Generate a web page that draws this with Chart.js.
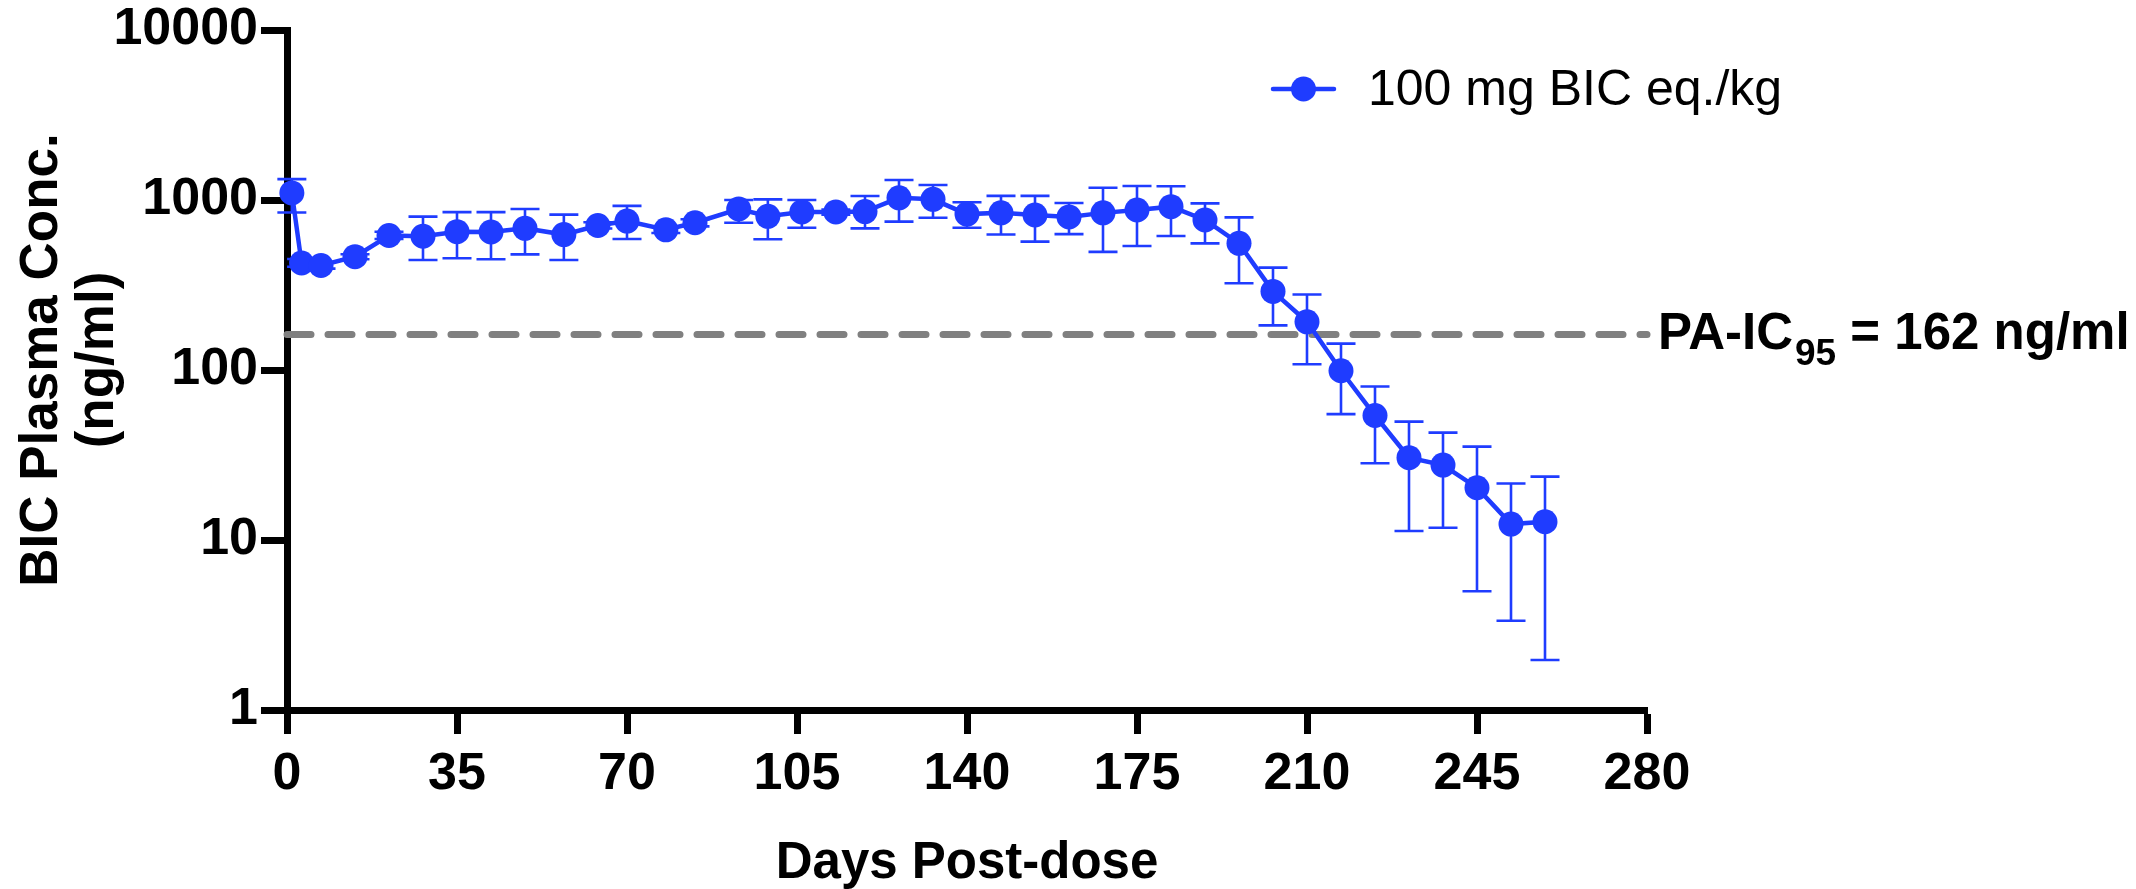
<!DOCTYPE html>
<html><head><meta charset="utf-8">
<script src="https://cdn.jsdelivr.net/npm/chart.js@4.4.1/dist/chart.umd.min.js"></script>
<style>html,body{margin:0;padding:0;background:#fff;} canvas{display:block;}</style>
</head><body>
<canvas id="c" width="2136" height="889"></canvas>
<script>
// ---- data ----
const days = [1,3,7,14,21,28,35,42,49,57,64,70,78,84,93,99,106,113,119,126,133,140,147,154,161,168,175,182,189,196,203,210,217,224,231,238,245,252,259];
const meanConc = [1100,426,412,464,618,612,651,648,681,626,708,752,668,735,885,802,851,851,855,1030,1009,826,840,816,795,840,873,914,763,556,290,192,99,54,30.5,27.6,20.3,12.4,12.8];
const upperConc = [1327,450,430,480,650,798,848,848,885,820,740,924,700,770,1000,1009,1000,880,1056,1312,1225,970,1058,1058,960,1181,1209,1205,955,790,400,278,143,80,49.7,42.8,35.4,21.5,23.6];
const lowerConc = [845,405,395,448,590,444,454,448,479,444,680,590,640,700,735,588,687,820,681,746,787,687,627,569,630,495,536,614,556,324,183,108,55,28.3,11.3,11.8,5.0,3.35,1.97];
const xTicks = [0,35,70,105,140,175,210,245,280];
const yTicks = [1,10,100,1000,10000];
const yTickLabels = ['1','10','100','1000','10000'];
const thresholdValue = 162;
const thresholdRange = [0,280];
const seriesLabel = '100 mg BIC eq./kg';
const xTitle = 'Days Post-dose';
const yTitleLines = ['BIC Plasma Conc.', '(ng/ml)'];
const thresholdText = ['PA-IC', '95', ' = 162 ng/ml'];

// ---- styles ----
const FONT = "'Liberation Sans', Arial, Helvetica, sans-serif";
const BLUE = '#1f3cff';
const GRAY = '#808080';

const errorBars = {
  id: 'errorBars',
  beforeDatasetsDraw(chart) {
    const {ctx, scales: {x, y}} = chart;
    ctx.save();
    ctx.strokeStyle = BLUE;
    ctx.lineWidth = 2.6;
    const cap = 14.5;
    days.forEach((d, i) => {
      const px = x.getPixelForValue(d);
      const yt = y.getPixelForValue(upperConc[i]);
      const yb = y.getPixelForValue(lowerConc[i]);
      ctx.beginPath();
      ctx.moveTo(px, yt); ctx.lineTo(px, yb);
      ctx.moveTo(px - cap, yt); ctx.lineTo(px + cap, yt);
      ctx.moveTo(px - cap, yb); ctx.lineTo(px + cap, yb);
      ctx.stroke();
    });
    ctx.restore();
  }
};

const annotations = {
  id: 'annotations',
  afterDraw(chart) {
    const {ctx, chartArea, scales: {x, y}} = chart;
    ctx.save();
    ctx.fillStyle = '#000';
    // y title (two lines, rotated)
    ctx.font = `bold 53px ${FONT}`;
    ctx.textAlign = 'center';
    ctx.textBaseline = 'alphabetic';
    const yc = 360;
    [[57, yTitleLines[0]], [113, yTitleLines[1]]].forEach(([bx, t]) => {
      ctx.save();
      ctx.translate(bx, yc);
      ctx.rotate(-Math.PI / 2);
      ctx.fillText(t, 0, 0);
      ctx.restore();
    });
    // x title
    ctx.font = `bold 51px ${FONT}`;
    ctx.fillText(xTitle, (chartArea.left + chartArea.right) / 2, 878);
    // threshold label
    const ty = y.getPixelForValue(thresholdValue);
    let tx = x.getPixelForValue(thresholdRange[1]) + 11;
    ctx.textAlign = 'left';
    ctx.font = `bold 51px ${FONT}`;
    ctx.fillText(thresholdText[0], tx, ty + 15);
    tx += ctx.measureText(thresholdText[0]).width + 2;
    ctx.font = `bold 37px ${FONT}`;
    ctx.fillText(thresholdText[1], tx, ty + 31);
    tx += ctx.measureText(thresholdText[1]).width;
    ctx.font = `bold 51px ${FONT}`;
    ctx.fillText(thresholdText[2], tx, ty + 15);
    // legend
    const ly = 89;
    ctx.strokeStyle = BLUE;
    ctx.lineWidth = 4.5;
    ctx.lineCap = 'round';
    ctx.beginPath(); ctx.moveTo(1273, ly); ctx.lineTo(1334, ly); ctx.stroke();
    ctx.fillStyle = BLUE;
    ctx.beginPath(); ctx.arc(1303.5, ly, 12.5, 0, Math.PI * 2); ctx.fill();
    ctx.fillStyle = '#000';
    ctx.font = `50px ${FONT}`;
    ctx.textBaseline = 'middle';
    ctx.fillText(chart.data.datasets[0].label, 1368, ly + 2);
    ctx.restore();
  }
};

new Chart(document.getElementById('c'), {
  type: 'line',
  data: {
    datasets: [
      {
        label: seriesLabel,
        data: days.map((d, i) => ({x: d, y: meanConc[i]})),
        borderColor: BLUE,
        backgroundColor: BLUE,
        borderWidth: 4.5,
        pointRadius: 12.5,
        pointBorderWidth: 0,
        pointBackgroundColor: BLUE,
        tension: 0,
        clip: false
      },
      {
        label: 'PA-IC95',
        data: thresholdRange.map(d => ({x: d, y: thresholdValue})),
        borderColor: GRAY,
        borderWidth: 7,
        borderDash: [24, 17],
        borderCapStyle: 'round',
        pointRadius: 0,
        clip: false
      }
    ]
  },
  options: {
    responsive: false,
    animation: false,
    devicePixelRatio: 1,
    layout: {padding: {left: 0, top: 30, right: 489, bottom: 0}},
    plugins: {legend: {display: false}, tooltip: {enabled: false}},
    scales: {
      x: {
        type: 'linear', position: 'bottom', min: 0, max: 280,
        grid: {display: true, drawOnChartArea: false, drawTicks: true, tickLength: 24, tickWidth: 7, tickColor: '#000'},
        border: {display: true, color: '#000', width: 7},
        ticks: {color: '#000', font: {family: FONT, size: 52, weight: 'bold', lineHeight: 1}, padding: 15, maxRotation: 0, autoSkip: false},
        afterBuildTicks: s => { s.ticks = xTicks.map(v => ({value: v})); },
        afterFit: s => { s.height = 179; }
      },
      y: {
        type: 'logarithmic', position: 'left', min: 1, max: 10000,
        grid: {display: true, drawOnChartArea: false, drawTicks: true, tickLength: 26, tickWidth: 7, tickColor: '#000'},
        border: {display: true, color: '#000', width: 7},
        ticks: {color: '#000', font: {family: FONT, size: 52, weight: 'bold', lineHeight: 1}, padding: 3, autoSkip: false,
          callback: v => { const i = yTicks.indexOf(v); return i >= 0 ? yTickLabels[i] : ''; }},
        afterBuildTicks: s => { s.ticks = yTicks.map(v => ({value: v})); },
        afterFit: s => { s.width = 287; }
      }
    }
  },
  plugins: [errorBars, annotations]
});
</script>
</body></html>
